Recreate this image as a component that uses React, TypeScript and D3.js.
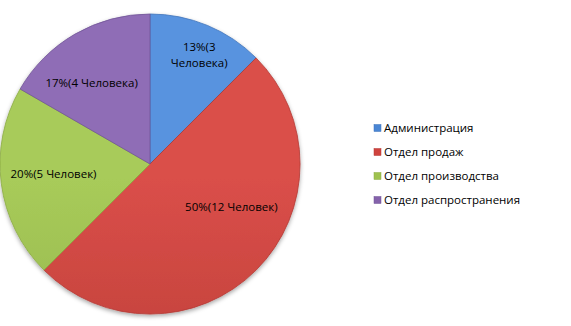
import React from "react";
import * as d3 from "d3";

const categories = ["Администрация", "Отдел продаж", "Отдел производства", "Отдел распространения"];
const values = [3, 12, 5, 4];
const labels = ["13%(3 Человека)", "50%(12 Человек)", "20%(5 Человек)", "17%(4 Человека)"];
const colors = ["#4a86d4", "#cf433e", "#9fc24f", "#8562ab"];
const lightColors = ["#5893df", "#da4f49", "#a8cb5a", "#8f6db6"];
const darkColors = ["#3d72ba", "#b43834", "#8bab43", "#715597"];

const W = 571;
const H = 326;
const cx = 150;
const cy = 164;
const R = 150;
// label placement (layout): [angle offset in rad, radius]
const labelLayout: [number, number][] = [
  [0.03, 120],
  [-0.3, 92],
  [0.03, 97],
  [-0.1, 100],
];

export default function App() {
  const pie = d3.pie<number>().value((d) => d).sort(null);
  const arcs = pie(values);
  const arc = d3.arc<d3.PieArcDatum<number>>().innerRadius(0).outerRadius(R);
  const font = "'Open Sans', 'DejaVu Sans', sans-serif";

  return (
    <svg width={W} height={H} style={{ position: "absolute", left: 0, top: 0 }} fontFamily={font}>
      <defs>
        {colors.map((c, i) => (
          <linearGradient key={i} id={`g${i}`} gradientUnits="userSpaceOnUse" x1={0} y1={cy - R} x2={0} y2={cy + R}>
            <stop offset="0%" stopColor={lightColors[i]} />
            <stop offset="100%" stopColor={darkColors[i]} />
          </linearGradient>
        ))}
        <filter id="shadow" x="-10%" y="-10%" width="120%" height="125%">
          <feDropShadow dx="0" dy="2" stdDeviation="2" floodColor="#000" floodOpacity="0.35" />
        </filter>
      </defs>
      <g transform={`translate(${cx},${cy})`}>
        <g filter="url(#shadow)">
          {arcs.map((a, i) => (
            <path key={i} d={arc(a) || ""} fill={`url(#g${i})`} stroke={darkColors[i]} strokeWidth={0.8} />
          ))}
        </g>
        {arcs.map((a, i) => {
          const [off, r] = labelLayout[i];
          const ang = (a.startAngle + a.endAngle) / 2 + off;
          const x = Math.sin(ang) * r;
          const y = -Math.cos(ang) * r;
          const text = labels[i];
          const lines = i === 0 ? ["13%(3", "Человека)"] : [text];
          return (
            <text key={i} x={x} y={y} textAnchor="middle" fontSize={11.5} fill="#000">
              {lines.map((l, j) => (
                <tspan key={j} x={x} dy={j === 0 ? (lines.length === 1 ? "0.35em" : `${0.35 - 0.7}em`) : "1.4em"}>
                  {l}
                </tspan>
              ))}
            </text>
          );
        })}
      </g>
      <g>
        {categories.map((c, i) => (
          <g key={i} transform={`translate(374,${128 + i * 24})`}>
            <rect x={0} y={-3.5} width={7} height={7} fill={colors[i]} stroke={darkColors[i]} strokeWidth={0.5} />
            <text x={10} y={0} dy="0.35em" fontSize={11.5} fill="#000">
              {c}
            </text>
          </g>
        ))}
      </g>
    </svg>
  );
}
